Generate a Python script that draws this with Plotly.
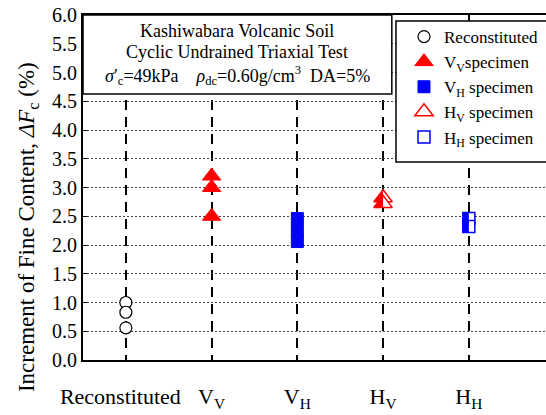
import plotly.graph_objects as go

# ---- data ----
categories = ["Reconstituted", "V<sub>V</sub>", "V<sub>H</sub>", "H<sub>V</sub>", "H<sub>H</sub>"]
tick_labels = ["Reconstituted\u00a0\u00a0", "V<sub>V</sub>", "V<sub>H</sub>", "H<sub>V</sub>", "H<sub>H</sub>"]
recon_vals = [1.0, 0.83, 0.56]
vv_vals = [3.2, 3.0, 2.5]
vh_vals = [2.46, 2.25, 2.06]
hv_vals = [2.82, 2.72]
hh_vals = [2.46, 2.32]
y_ticks = [0.0, 0.5, 1.0, 1.5, 2.0, 2.5, 3.0, 3.5, 4.0, 4.5, 5.0, 5.5, 6.0]

FONT = "Liberation Serif"
RED = "#ff0000"
BLUE = "#0000ff"

fig = go.Figure()

# Reconstituted: open circles
fig.add_trace(go.Scatter(
    x=[categories[0]] * len(recon_vals), y=recon_vals, mode="markers",
    name="Reconstituted",
    marker=dict(symbol="circle", size=12, color="white", line=dict(color="black", width=1.2)),
))
# Vv: filled red triangles
fig.add_trace(go.Scatter(
    x=[categories[1]] * len(vv_vals), y=vv_vals, mode="markers",
    name="V<sub>V</sub>specimen",
    marker=dict(symbol="triangle-up", size=16, color=RED, line=dict(color=RED, width=1)),
))
# VH: filled blue squares
fig.add_trace(go.Scatter(
    x=[categories[2]] * len(vh_vals), y=vh_vals, mode="markers",
    name="V<sub>H</sub> specimen",
    marker=dict(symbol="square", size=12, color=BLUE, line=dict(color=BLUE, width=1)),
))
# HV: half-filled red triangles (outline + left-half overlay)
fig.add_trace(go.Scatter(
    x=[categories[3]] * len(hv_vals), y=hv_vals, mode="markers",
    name="H<sub>V</sub> specimen", legendgroup="hv",
    marker=dict(symbol="triangle-up", size=16, color="white", line=dict(color=RED, width=1.5)),
))
fig.add_trace(go.Scatter(
    x=[categories[3]] * len(hv_vals), y=hv_vals, mode="markers",
    showlegend=False, legendgroup="hv", hoverinfo="skip",
    marker=dict(symbol="triangle-ne", size=11, angle=90, standoff=3.3,
                color=RED, line=dict(color=RED, width=0)),
))
# HH: half-filled blue squares (outline + left-half overlay)
fig.add_trace(go.Scatter(
    x=[categories[4]] * len(hh_vals), y=hh_vals, mode="markers",
    name="H<sub>H</sub> specimen", legendgroup="hh",
    marker=dict(symbol="square", size=12, color="white", line=dict(color=BLUE, width=1.5)),
))
fig.add_trace(go.Scatter(
    x=[categories[4]] * len(hh_vals), y=hh_vals, mode="markers",
    showlegend=False, legendgroup="hh", hoverinfo="skip",
    marker=dict(symbol="line-ew", size=8.6, angle=90, standoff=3,
                color=BLUE, line=dict(color=BLUE, width=6)),
))

# info box and legend box
fig.add_shape(type="rect", xref="paper", yref="paper",
              x0=0, x1=0.667, y0=0.771, y1=1.0,
              fillcolor="white", line=dict(color="black", width=1.5), layer="above")
fig.add_shape(type="rect", xref="paper", yref="paper",
              x0=0.676, x1=1.03, y0=0.5739, y1=0.9826,
              fillcolor="white", line=dict(color="black", width=1.5), layer="above")

info_lines = [
    "Kashiwabara Volcanic Soil",
    "Cyclic Undrained Triaxial Test",
    "<i>σ</i>′<sub>c</sub>=49kPa\u00a0\u00a0\u00a0\u00a0<i>ρ</i><sub>dc</sub>=0.60g/cm<sup>3</sup>\u00a0\u00a0DA=5%",
]
info_y = [0.9536, 0.8928, 0.826]
for txt, yy in zip(info_lines, info_y):
    fig.add_annotation(x=0.333, y=yy, xref="paper", yref="paper", text=txt,
                       showarrow=False, xanchor="center", yanchor="middle",
                       font=dict(family=FONT, size=18, color="black"))

# y-axis title (placed as rotated text, as in the reference)
fig.add_annotation(x=-0.119, y=0.385, xref="paper", yref="paper",
                   text="Increment of Fine Content, <i>ΔF</i><sub>c</sub> (%)",
                   textangle=-90, showarrow=False, xanchor="center", yanchor="middle",
                   font=dict(family=FONT, size=23, color="black"))

fig.update_layout(
    width=546, height=415,
    margin=dict(l=83, r=0, t=15, b=55, autoexpand=False),
    paper_bgcolor="white", plot_bgcolor="white",
    font=dict(family=FONT, color="black"),
    showlegend=True,
    legend=dict(x=0.6933, y=0.9884, xanchor="left", yanchor="top",
                bgcolor="rgba(0,0,0,0)", borderwidth=0,
                font=dict(family=FONT, size=17, color="black"),
                tracegroupgap=0),
    xaxis=dict(type="category", categoryorder="array", categoryarray=categories,
               tickvals=categories, ticktext=tick_labels,
               range=[-0.5, 4.9], showline=True, linecolor="black", linewidth=2,
               mirror=True, ticks="", showgrid=True, gridcolor="black", gridwidth=2,
               griddash="10px,7px", tickfont=dict(family=FONT, size=22, color="black"),
               ticklabelstandoff=16, fixedrange=True),
    yaxis=dict(range=[0, 6], tickvals=y_ticks, ticktext=[f"{v:.1f}" for v in y_ticks],
               showline=True, linecolor="black", linewidth=2, mirror=False,
               ticks="inside", ticklen=4, tickcolor="black", tickwidth=1,
               showgrid=True, gridcolor="#444", gridwidth=1, griddash="2px,2px",
               zeroline=False, tickfont=dict(family=FONT, size=20, color="black"),
               fixedrange=True),
)

fig.write_html("out.html", config={"displayModeBar": False},
               post_script="document.body.style.margin='0';")
